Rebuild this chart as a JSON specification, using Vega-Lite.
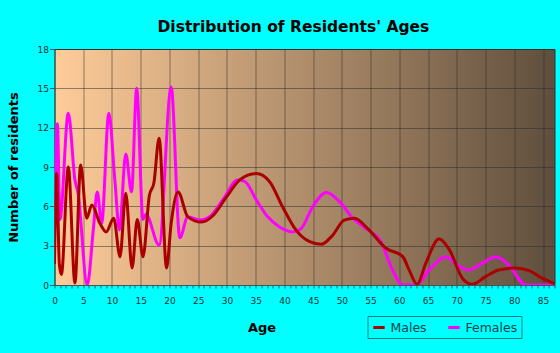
{
  "$schema": "https://vega.github.io/schema/vega-lite/v6.json",
  "width": 500,
  "height": 236,
  "autosize": {"type": "none"},
  "padding": {"left": 54.5, "top": 49, "right": 5.5, "bottom": 68},
  "background": "#00FFFF",
  "title": {
    "text": "Distribution of Residents' Ages",
    "font": "DejaVu Sans",
    "fontSize": 15.5,
    "fontWeight": "bold",
    "color": "#000000",
    "anchor": "start",
    "frame": "group",
    "dx": 103,
    "baseline": "alphabetic",
    "offset": -2
  },
  "data": {
    "values": [
      {"age": 0, "n": 4.2, "sex": "Females"},
      {"age": 0.5, "n": 12.3, "sex": "Females"},
      {"age": 0.95, "n": 5.0, "sex": "Females"},
      {"age": 2.4, "n": 13.1, "sex": "Females"},
      {"age": 3.56, "n": 8.0, "sex": "Females"},
      {"age": 4.1, "n": 7.0, "sex": "Females"},
      {"age": 5.7, "n": 0, "sex": "Females"},
      {"age": 6.75, "n": 4.2, "sex": "Females"},
      {"age": 7.44, "n": 7.1, "sex": "Females"},
      {"age": 8.2, "n": 4.7, "sex": "Females"},
      {"age": 9.46, "n": 13.1, "sex": "Females"},
      {"age": 10.5, "n": 8.0, "sex": "Females"},
      {"age": 11.3, "n": 4.2, "sex": "Females"},
      {"age": 12.4, "n": 10.0, "sex": "Females"},
      {"age": 13.4, "n": 7.1, "sex": "Females"},
      {"age": 14.3, "n": 15.0, "sex": "Females"},
      {"age": 15.4, "n": 5.0, "sex": "Females"},
      {"age": 15.9, "n": 5.4, "sex": "Females"},
      {"age": 18.2, "n": 3.05, "sex": "Females"},
      {"age": 20.3, "n": 15.1, "sex": "Females"},
      {"age": 21.8, "n": 3.6, "sex": "Females"},
      {"age": 23.2, "n": 5.2, "sex": "Females"},
      {"age": 25.3, "n": 4.95, "sex": "Females"},
      {"age": 27, "n": 5.2, "sex": "Females"},
      {"age": 29.3, "n": 6.5, "sex": "Females"},
      {"age": 31.9, "n": 8.0, "sex": "Females"},
      {"age": 33.1, "n": 7.9, "sex": "Females"},
      {"age": 35.1, "n": 6.5, "sex": "Females"},
      {"age": 37.1, "n": 5.2, "sex": "Females"},
      {"age": 39.1, "n": 4.45, "sex": "Females"},
      {"age": 41.5, "n": 4.05, "sex": "Females"},
      {"age": 42.9, "n": 4.3, "sex": "Females"},
      {"age": 44.9, "n": 5.95, "sex": "Females"},
      {"age": 47.3, "n": 7.05, "sex": "Females"},
      {"age": 49.6, "n": 6.36, "sex": "Females"},
      {"age": 51.9, "n": 5.1, "sex": "Females"},
      {"age": 54.2, "n": 4.3, "sex": "Females"},
      {"age": 56.8, "n": 3.3, "sex": "Females"},
      {"age": 58.8, "n": 1.15, "sex": "Females"},
      {"age": 60.6, "n": 0, "sex": "Females"},
      {"age": 62.9, "n": 0, "sex": "Females"},
      {"age": 65.2, "n": 1.15, "sex": "Females"},
      {"age": 68.1, "n": 2.16, "sex": "Females"},
      {"age": 70.1, "n": 1.5, "sex": "Females"},
      {"age": 72.1, "n": 1.15, "sex": "Females"},
      {"age": 74.4, "n": 1.65, "sex": "Females"},
      {"age": 76.8, "n": 2.16, "sex": "Females"},
      {"age": 79.1, "n": 1.5, "sex": "Females"},
      {"age": 82, "n": 0, "sex": "Females"},
      {"age": 87, "n": 0, "sex": "Females"},
      {"age": 0, "n": 1.6, "sex": "Males"},
      {"age": 0.38, "n": 8.5, "sex": "Males"},
      {"age": 0.84, "n": 1.6, "sex": "Males"},
      {"age": 1.2, "n": 0.8, "sex": "Males"},
      {"age": 2.4, "n": 9.0, "sex": "Males"},
      {"age": 3.56, "n": 0.15, "sex": "Males"},
      {"age": 4.55, "n": 9.16, "sex": "Males"},
      {"age": 5.6, "n": 5.1, "sex": "Males"},
      {"age": 6.5, "n": 6.1, "sex": "Males"},
      {"age": 7.9, "n": 4.7, "sex": "Males"},
      {"age": 9.0, "n": 4.05, "sex": "Males"},
      {"age": 10.3, "n": 5.1, "sex": "Males"},
      {"age": 11.4, "n": 2.16, "sex": "Males"},
      {"age": 12.4, "n": 7.0, "sex": "Males"},
      {"age": 13.5, "n": 1.3, "sex": "Males"},
      {"age": 14.4, "n": 5.0, "sex": "Males"},
      {"age": 15.4, "n": 2.16, "sex": "Males"},
      {"age": 16.5, "n": 6.8, "sex": "Males"},
      {"age": 17.3, "n": 7.8, "sex": "Males"},
      {"age": 18.2, "n": 11.2, "sex": "Males"},
      {"age": 19.5, "n": 1.3, "sex": "Males"},
      {"age": 20.3, "n": 4.7, "sex": "Males"},
      {"age": 21.5, "n": 7.1, "sex": "Males"},
      {"age": 23.2, "n": 5.2, "sex": "Males"},
      {"age": 25.6, "n": 4.8, "sex": "Males"},
      {"age": 27.6, "n": 5.3, "sex": "Males"},
      {"age": 29.9, "n": 6.7, "sex": "Males"},
      {"age": 32.2, "n": 8.0, "sex": "Males"},
      {"age": 35.1, "n": 8.5, "sex": "Males"},
      {"age": 37.4, "n": 7.9, "sex": "Males"},
      {"age": 39.7, "n": 5.95, "sex": "Males"},
      {"age": 42.0, "n": 4.2, "sex": "Males"},
      {"age": 44.4, "n": 3.3, "sex": "Males"},
      {"age": 46.4, "n": 3.1, "sex": "Males"},
      {"age": 48.4, "n": 3.8, "sex": "Males"},
      {"age": 50.4, "n": 4.95, "sex": "Males"},
      {"age": 52.2, "n": 5.1, "sex": "Males"},
      {"age": 54.5, "n": 4.3, "sex": "Males"},
      {"age": 57.7, "n": 2.8, "sex": "Males"},
      {"age": 60.6, "n": 2.16, "sex": "Males"},
      {"age": 61.7, "n": 1.15, "sex": "Males"},
      {"age": 63.1, "n": 0.06, "sex": "Males"},
      {"age": 64.6, "n": 1.65, "sex": "Males"},
      {"age": 66.9, "n": 3.5, "sex": "Males"},
      {"age": 68.7, "n": 2.7, "sex": "Males"},
      {"age": 71.0, "n": 0.5, "sex": "Males"},
      {"age": 72.7, "n": 0.05, "sex": "Males"},
      {"age": 75.0, "n": 0.64, "sex": "Males"},
      {"age": 77.3, "n": 1.15, "sex": "Males"},
      {"age": 80.2, "n": 1.3, "sex": "Males"},
      {"age": 82.6, "n": 1.1, "sex": "Males"},
      {"age": 84.9, "n": 0.5, "sex": "Males"},
      {"age": 87, "n": 0.1, "sex": "Males"}
    ]
  },
  "encoding": {
    "x": {
      "field": "age",
      "type": "quantitative",
      "scale": {"domain": [0, 87], "nice": false, "zero": false},
      "axis": {
        "title": "Age",
        "values": [0,1,2,3,4,5,6,7,8,9,10,11,12,13,14,15,16,17,18,19,20,21,22,23,24,25,26,27,28,29,30,31,32,33,34,35,36,37,38,39,40,41,42,43,44,45,46,47,48,49,50,51,52,53,54,55,56,57,58,59,60,61,62,63,64,65,66,67,68,69,70,71,72,73,74,75,76,77,78,79,80,81,82,83,84,85,86,87],
        "labelExpr": "datum.value % 5 === 0 ? datum.label : ''",
        "labelOverlap": false,
        "labelBound": false,
        "labelFlush": false,
        "grid": true,
        "gridOpacity": {"condition": {"test": "datum.value % 5 === 0 && datum.value > 0", "value": 0.5}, "value": 0},
        "tickSize": 3,
        "labelPadding": 8,
        "titleX": 207,
        "titleY": 46,
        "titleAlign": "center",
        "titleBaseline": "alphabetic",
        "titleFontSize": 13
      }
    },
    "y": {
      "field": "n",
      "type": "quantitative",
      "scale": {"domain": [0, 18], "nice": false},
      "axis": {
        "title": "Number of residents",
        "values": [0, 3, 6, 9, 12, 15, 18],
        "grid": true,
        "gridOpacity": {"condition": {"test": "datum.value > 0", "value": 0.5}, "value": 0},
        "tickSize": 5,
        "labelPadding": 1,
        "titleX": -37.5,
        "titleY": 118,
        "titleAngle": 270,
        "titleAlign": "center",
        "titleBaseline": "alphabetic",
        "titleFontSize": 13
      }
    },
    "stroke": {
      "field": "sex",
      "type": "nominal",
      "scale": {"domain": ["Males", "Females"], "range": ["#AA0000", "#FF00FF"]},
      "legend": {
        "title": null,
        "orient": "none",
        "legendX": 313,
        "legendY": 267,
        "direction": "horizontal",
        "symbolType": "stroke",
        "symbolStrokeWidth": 3,
        "symbolSize": 130,
        "labelFont": "DejaVu Sans",
        "labelFontSize": 12.5,
        "labelColor": "#004444",
        "strokeColor": "#008080",
        "padding": 4,
        "columnPadding": 14,
        "labelOffset": 4
      }
    }
  },
  "layer": [
    {
      "transform": [{"filter": "datum.sex === 'Females'"}],
      "mark": {"type": "line", "interpolate": "monotone", "strokeWidth": 3, "clip": true}
    },
    {
      "transform": [{"filter": "datum.sex === 'Males'"}],
      "mark": {"type": "line", "interpolate": "monotone", "strokeWidth": 3, "clip": true}
    }
  ],
  "config": {
    "font": "DejaVu Sans",
    "view": {
      "fill": {"gradient": "linear", "x1": 0, "y1": 0, "x2": 1, "y2": 0, "stops": [{"offset": 0, "color": "#FFCC99"}, {"offset": 1, "color": "#5F4E3D"}]},
      "stroke": "#333333",
      "strokeWidth": 1
    },
    "axis": {
      "labelFont": "DejaVu Sans",
      "labelFontSize": 9,
      "labelColor": "#003333",
      "titleFont": "DejaVu Sans",
      "titleFontWeight": "bold",
      "titleColor": "#000000",
      "gridColor": "#2a2a2a",
      "gridWidth": 1,
      "domainColor": "#2F5F5F",
      "tickColor": "#2F5F5F"
    }
  }
}
